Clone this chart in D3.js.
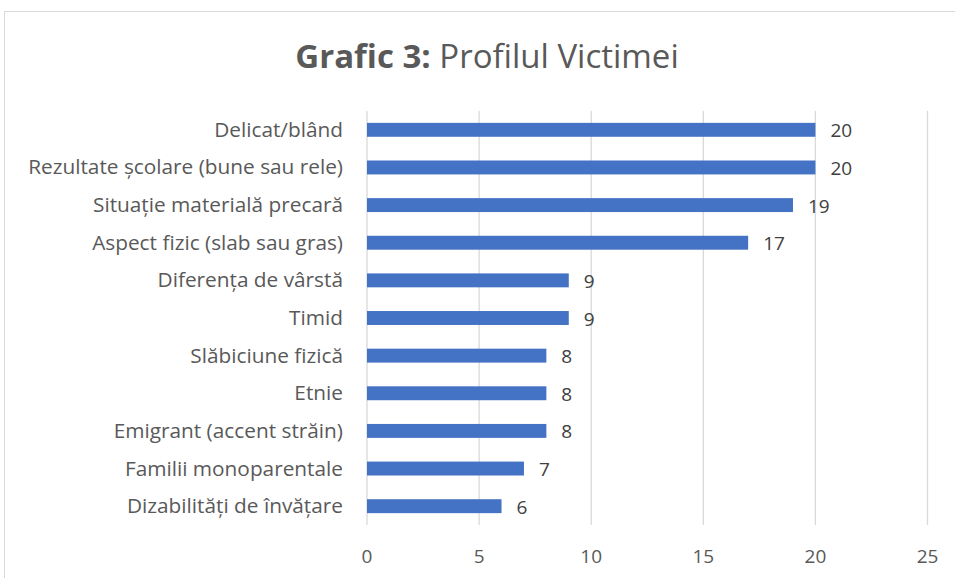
<!DOCTYPE html>
<html>
<head>
<meta charset="utf-8">
<script src="https://cdn.jsdelivr.net/npm/d3@7"></script>
<style>
  body { margin: 0; background: #fff; }
  svg { display: block; font-family: "Open Sans", sans-serif; }
</style>
</head>
<body>
<div class="chart"></div>
<script>
const categories = [
    "Delicat/blând",
    "Rezultate școlare (bune sau rele)",
    "Situație materială precară",
    "Aspect fizic (slab sau gras)",
    "Diferența de vârstă",
    "Timid",
    "Slăbiciune fizică",
    "Etnie",
    "Emigrant (accent străin)",
    "Familii monoparentale",
    "Dizabilități de învățare"
];
const values = [20, 20, 19, 17, 9, 9, 8, 8, 8, 7, 6];
const ticks = [0, 5, 10, 15, 20, 25];

const data = categories.map((c, i) => ({name: c, value: values[i]}));

const width = 955;
const height = 578;
const svg = d3.select('.chart')
    .append('svg')
    .attr('width', width)
    .attr('height', height);

// chart border
svg.append('rect')
    .attr('x', 4.5)
    .attr('y', 11.5)
    .attr('width', 1000)
    .attr('height', 700)
    .attr('fill', 'none')
    .attr('stroke', '#d9d9d9');

// title
const title = svg.append('text')
    .attr('x', 487)
    .attr('y', 68)
    .attr('text-anchor', 'middle')
    .attr('font-size', 33)
    .attr('fill', '#595959');
title.append('tspan').attr('font-weight', 'bold').text('Grafic 3:');
title.append('tspan').text(' Profilul Victimei');

const x = d3.scaleLinear().domain([0, 25]).range([367, 927.5]);
const y = d3.scaleBand().domain(categories).range([111, 525]).paddingInner(0.63).paddingOuter(0.315);

// gridlines
svg.selectAll('line.grid')
    .data(ticks)
    .enter()
    .append('line')
    .attr('class', 'grid')
    .attr('x1', d => x(d))
    .attr('x2', d => x(d))
    .attr('y1', 111)
    .attr('y2', 525)
    .attr('stroke', '#d9d9d9')
    .attr('stroke-width', 1.3);

// tick labels
svg.selectAll('text.tick')
    .data(ticks)
    .enter()
    .append('text')
    .attr('class', 'tick')
    .text(d => d)
    .attr('x', d => x(d))
    .attr('y', 563)
    .attr('text-anchor', 'middle')
    .attr('font-size', 19)
    .attr('fill', '#595959');

// bars
svg.selectAll('rect.bar')
    .data(data)
    .enter()
    .append('rect')
    .attr('class', 'bar')
    .attr('x', x(0))
    .attr('y', d => y(d.name))
    .attr('width', d => x(d.value) - x(0))
    .attr('height', y.bandwidth())
    .attr('fill', '#4472c4');

// category labels
svg.selectAll('text.cat')
    .data(data)
    .enter()
    .append('text')
    .attr('class', 'cat')
    .text(d => d.name)
    .attr('x', 343)
    .attr('y', d => y(d.name) + y.bandwidth() / 2 + 7)
    .attr('text-anchor', 'end')
    .attr('font-size', 20.8)
    .attr('fill', '#595959');

// value labels
svg.selectAll('text.value')
    .data(data)
    .enter()
    .append('text')
    .attr('class', 'value')
    .text(d => d.value)
    .attr('x', d => x(d.value) + 15)
    .attr('y', d => y(d.name) + y.bandwidth() / 2 + 7.5)
    .attr('font-size', 19)
    .attr('fill', '#404040');
</script>
</body>
</html>
